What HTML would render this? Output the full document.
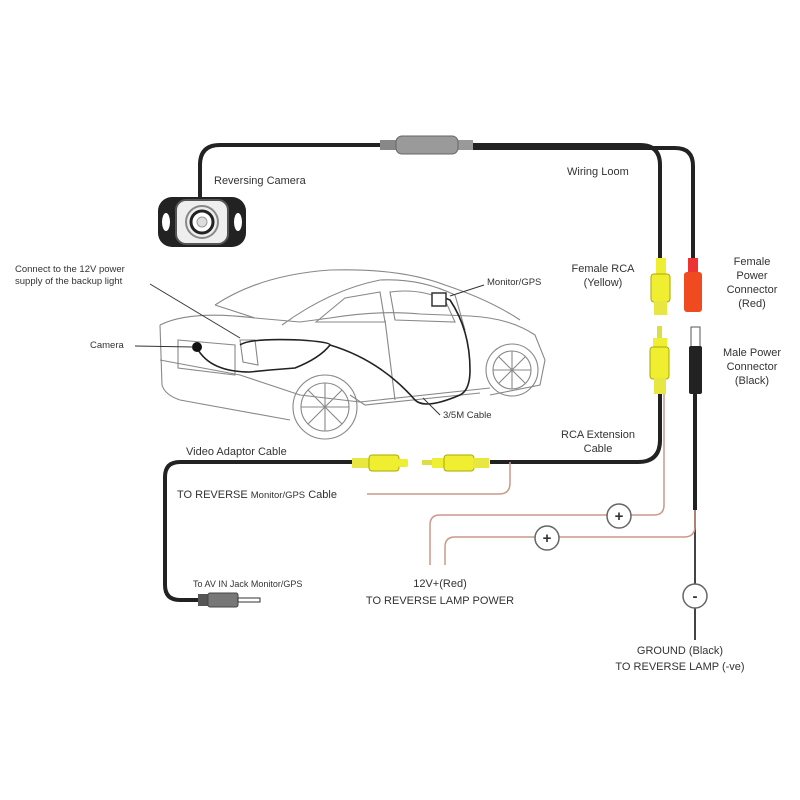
<!DOCTYPE html>
<html><head><meta charset="utf-8"><style>
html,body{margin:0;padding:0;background:#fff;width:800px;height:800px;overflow:hidden}
svg{display:block}
text{font-family:"Liberation Sans",sans-serif;fill:#333}
</style></head><body>
<svg width="800" height="800" viewBox="0 0 800 800">
<!-- main cables top -->
<path d="M200 200 V165 Q200 145 220 145 H640 Q660 145 660 165 V258" fill="none" stroke="#222" stroke-width="4"/>
<path d="M460 148 H675 Q693 148 693 166 V258" fill="none" stroke="#222" stroke-width="4"/>
<!-- filter -->
<rect x="380" y="140" width="20" height="10" fill="#888"/>
<rect x="455" y="140" width="18" height="10" fill="#999"/>
<rect x="396" y="136" width="62" height="18" rx="6" fill="#9a9a9a" stroke="#666"/>
<!-- camera -->
<rect x="158" y="197" width="88" height="50" rx="14" fill="#222"/>
<ellipse cx="166" cy="222" rx="4" ry="9" fill="#fff"/>
<ellipse cx="238" cy="222" rx="4" ry="9" fill="#fff"/>
<rect x="176" y="200" width="52" height="44" rx="10" fill="#eee" stroke="#555" stroke-width="2"/>
<circle cx="202" cy="222" r="16" fill="none" stroke="#888" stroke-width="2"/>
<circle cx="202" cy="222" r="11" fill="#fff" stroke="#222" stroke-width="3"/>
<circle cx="202" cy="222" r="5" fill="#ddd" stroke="#999"/>
<text x="214" y="184" font-size="11">Reversing Camera</text>
<text x="567" y="175" font-size="11">Wiring Loom</text>
<!-- female connectors -->
<rect x="656" y="258" width="10" height="18" fill="#ee3"/>
<rect x="651" y="274" width="19" height="28" rx="3" fill="#f0ee30" stroke="#aa0"/>
<rect x="654" y="301" width="13" height="14" fill="#e8e640"/>
<rect x="688" y="258" width="10" height="16" fill="#e33"/>
<rect x="684" y="272" width="18" height="40" rx="3" fill="#f04a20"/>
<text x="603" y="272" font-size="11" text-anchor="middle">Female RCA</text>
<text x="603" y="286" font-size="11" text-anchor="middle">(Yellow)</text>
<text x="752" y="265" font-size="11" text-anchor="middle">Female</text>
<text x="752" y="279" font-size="11" text-anchor="middle">Power</text>
<text x="752" y="293" font-size="11" text-anchor="middle">Connector</text>
<text x="752" y="307" font-size="11" text-anchor="middle">(Red)</text>
<!-- male connectors -->
<rect x="657" y="326" width="5" height="14" fill="#dd4"/>
<rect x="653" y="338" width="14" height="10" fill="#ee3"/>
<rect x="650" y="347" width="19" height="32" rx="3" fill="#f0ee30" stroke="#aa0"/>
<rect x="654" y="378" width="12" height="16" fill="#e8e640"/>
<rect x="691" y="327" width="9" height="20" fill="#fff" stroke="#555"/>
<rect x="689" y="346" width="13" height="48" rx="2" fill="#222"/>
<text x="752" y="356" font-size="11" text-anchor="middle">Male Power</text>
<text x="752" y="370" font-size="11" text-anchor="middle">Connector</text>
<text x="752" y="384" font-size="11" text-anchor="middle">(Black)</text>
<!-- RCA extension cable -->
<path d="M660 394 V440 Q660 462 638 462 H490" fill="none" stroke="#222" stroke-width="4"/>
<path d="M664 394 V505 Q664 515 654 515 H440 Q430 515 430 525 V565" fill="none" stroke="#c98" stroke-width="1.5"/>
<path d="M695 394 V510" fill="none" stroke="#222" stroke-width="4"/>
<path d="M695 510 V640" fill="none" stroke="#444" stroke-width="2"/>
<path d="M695 510 V526 Q695 537 684 537 H455 Q445 537 445 547 V565" fill="none" stroke="#c98" stroke-width="1.5"/>
<text x="598" y="438" font-size="11" text-anchor="middle">RCA Extension</text>
<text x="598" y="452" font-size="11" text-anchor="middle">Cable</text>
<circle cx="619" cy="516" r="12" fill="#fff" stroke="#666" stroke-width="1.5"/>
<text x="619" y="521" font-size="15" font-weight="bold" text-anchor="middle" fill="#222">+</text>
<circle cx="547" cy="538" r="12" fill="#fff" stroke="#666" stroke-width="1.5"/>
<text x="547" y="543" font-size="15" font-weight="bold" text-anchor="middle" fill="#222">+</text>
<circle cx="695" cy="596" r="12" fill="#fff" stroke="#666" stroke-width="1.5"/>
<text x="695" y="601" font-size="15" font-weight="bold" text-anchor="middle" fill="#222">-</text>
<text x="440" y="587" font-size="11" text-anchor="middle">12V+(Red)</text>
<text x="440" y="604" font-size="11" text-anchor="middle">TO REVERSE LAMP POWER</text>
<text x="680" y="654" font-size="11" text-anchor="middle">GROUND (Black)</text>
<text x="680" y="670" font-size="11" text-anchor="middle">TO REVERSE LAMP (-ve)</text>
<!-- video connectors -->
<rect x="422" y="460" width="12" height="5" fill="#dd4"/>
<rect x="432" y="458" width="14" height="10" fill="#ee3"/>
<rect x="444" y="455" width="30" height="16" rx="3" fill="#f0ee30" stroke="#aa0"/>
<rect x="473" y="458" width="16" height="10" fill="#e8e640"/>
<rect x="352" y="458" width="18" height="10" fill="#e8e640"/>
<rect x="369" y="455" width="30" height="16" rx="3" fill="#f0ee30" stroke="#aa0"/>
<rect x="398" y="459" width="10" height="8" rx="2" fill="#ee3"/>
<path d="M510 462 V483 Q510 494 499 494 H367" fill="none" stroke="#c98" stroke-width="1.5"/>
<!-- video adaptor cable -->
<path d="M352 462 H180 Q165 462 165 477 V585 Q165 600 180 600 H200" fill="none" stroke="#222" stroke-width="4"/>
<rect x="198" y="594" width="12" height="12" fill="#555"/>
<rect x="208" y="593" width="30" height="14" rx="2" fill="#777" stroke="#444"/>
<rect x="238" y="598" width="22" height="4" fill="#fff" stroke="#333"/>
<text x="186" y="455" font-size="11">Video Adaptor Cable</text>
<text x="177" y="498" font-size="11">TO REVERSE <tspan font-size="9.5">Monitor/GPS</tspan> Cable</text>
<text x="193" y="587" font-size="9">To AV IN Jack Monitor/GPS</text>
<!-- car -->
<g fill="none" stroke="#888" stroke-width="1.1">
<path d="M160 325 L162 385 Q165 395 180 400 L290 420"/>
<path d="M160 325 Q190 310 255 318 L300 322 L330 318 Q380 310 420 314 L470 316 Q510 318 535 335 L545 360 L540 385 L490 395"/>
<path d="M215 305 Q260 275 330 270 Q400 268 445 285 Q490 300 520 320"/>
<path d="M215 305 L255 318"/>
<path d="M282 325 Q330 290 380 280 Q420 278 455 295 L465 330"/>
<path d="M316 322 L345 298 L380 292 L385 322 Z"/>
<path d="M395 320 L390 292 Q420 288 445 300 L455 322 Z"/>
<path d="M160 360 L240 375 L300 395 L360 402 L490 388"/>
<path d="M350 395 L365 405 L480 393"/>
<path d="M385 320 L395 400"/>
<path d="M178 340 L235 345 L235 375 L178 368 Z"/>
<path d="M240 340 L255 340 L258 365 L243 362 Z"/>
<circle cx="325" cy="407" r="32"/><circle cx="325" cy="407" r="24"/>
<path d="M325 383 V431 M301 407 H349 M308 390 L342 424 M342 390 L308 424"/>
<circle cx="512" cy="370" r="26"/><circle cx="512" cy="370" r="19"/>
<path d="M512 351 V389 M493 370 H531 M499 357 L525 383 M525 357 L499 383"/>
</g>
<!-- car cable -->
<path d="M197 348 Q210 372 250 372 L270 370 L295 368 Q320 358 330 345 Q380 360 415 400 Q425 410 460 395 Q470 390 470 370 Q470 330 450 300 L445 298" fill="none" stroke="#222" stroke-width="1.6"/>
<path d="M240 345 Q250 338 300 340 Q330 342 330 345" fill="none" stroke="#222" stroke-width="1.6"/>
<rect x="432" y="293" width="14" height="13" fill="#fff" stroke="#333" stroke-width="1.5"/>
<circle cx="197" cy="347" r="5" fill="#111"/>
<!-- leader lines -->
<path d="M150 284 L240 338" stroke="#333" stroke-width="1"/>
<path d="M135 346 L193 347" stroke="#333" stroke-width="1"/>
<path d="M484 285 L450 296" stroke="#333" stroke-width="1"/>
<path d="M423 398 L440 415" stroke="#333" stroke-width="1"/>
<text x="15" y="272" font-size="9.5">Connect to the 12V power</text>
<text x="15" y="284" font-size="9.5">supply of the backup light</text>
<text x="90" y="348" font-size="9.5">Camera</text>
<text x="487" y="285" font-size="9.5">Monitor/GPS</text>
<text x="443" y="418" font-size="9.5">3/5M  Cable</text>
</svg>
</body></html>
